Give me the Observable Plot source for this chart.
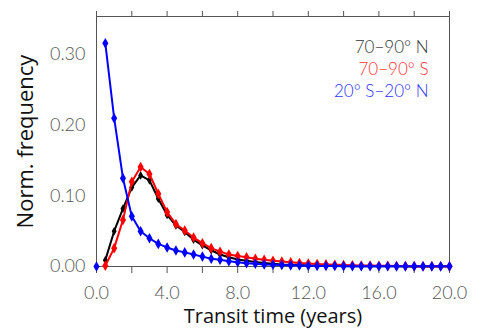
<!DOCTYPE html>
<html>
<head>
<meta charset="utf-8">
<script src="https://cdn.jsdelivr.net/npm/d3@7"></script>
<script src="https://cdn.jsdelivr.net/npm/@observablehq/plot@0.6"></script>
<style>
  html, body { margin: 0; padding: 0; background: #fff; }
  #chart svg { display: block; }
</style>
</head>
<body>
<div id="chart"></div>
<script>
// Transit time (years)
const years = [0.5, 1.0, 1.5, 2.0, 2.5, 3.0, 3.5, 4.0, 4.5, 5.0,
  5.5, 6.0, 6.5, 7.0, 7.5, 8.0, 8.5, 9.0, 9.5, 10.0,
  10.5, 11.0, 11.5, 12.0, 12.5, 13.0, 13.5, 14.0, 14.5, 15.0,
  15.5, 16.0, 16.5, 17.0, 17.5, 18.0, 18.5, 19.0, 19.5, 20.0];

// 70–90° N
const north = [0.009, 0.050, 0.082, 0.112, 0.129, 0.122, 0.096, 0.073, 0.058, 0.049,
  0.038, 0.030, 0.023, 0.017, 0.013, 0.010, 0.008, 0.0065, 0.005, 0.004,
  0.003, 0.0025, 0.002, 0.0015, 0.0012, 0.001, 0.0008, 0.0006, 0.0005, 0.0004,
  0.0003, 0.0003, 0.0002, 0.0002, 0.0001, 0.0001, 0.0001, 0.0001, 0.0, 0.0];

// 70–90° S
const south = [0.001, 0.026, 0.066, 0.120, 0.141, 0.131, 0.103, 0.077, 0.060, 0.051,
  0.041, 0.033, 0.026, 0.021, 0.017, 0.015, 0.013, 0.011, 0.0095, 0.0082,
  0.007, 0.006, 0.005, 0.0042, 0.0036, 0.003, 0.0026, 0.0022, 0.0018, 0.0015,
  0.0013, 0.0011, 0.0009, 0.0008, 0.0006, 0.0005, 0.0004, 0.0003, 0.0003, 0.0002];

// 20° S–20° N
const tropics = [0.316, 0.210, 0.125, 0.071, 0.050, 0.040, 0.032, 0.027, 0.0226, 0.020,
  0.017, 0.014, 0.011, 0.0095, 0.0075, 0.006, 0.0047, 0.0038, 0.003, 0.0025,
  0.002, 0.0016, 0.0013, 0.001, 0.0008, 0.0007, 0.0006, 0.0005, 0.0004, 0.0004,
  0.0003, 0.0003, 0.0003, 0.0002, 0.0002, 0.0002, 0.0002, 0.0002, 0.0002, 0.0002];
// lone marker at the origin of the tropical series
const tropicsOriginX = [0.0];
const tropicsOriginY = [0.0];

const seriesNames = ["70\u221290\u00B0 N", "70\u221290\u00B0 S", "20\u00B0 S\u221220\u00B0 N"];
const seriesColors = ["#000000", "#ff0000", "#0000ff"];
const legendColors = ["#333333", "#ff3333", "#3333ff"];

const xTicks = [0, 2, 4, 6, 8, 10, 12, 14, 16, 18, 20];
const xLabelTicks = [0, 4, 8, 12, 16, 20];
const yTicks = [0.0, 0.1, 0.2, 0.3];

const xTitle = "Transit time (years)";
const yTitle = "Norm. frequency";

const seriesValues = [north, south, tropics];
const rows = [];
seriesValues.forEach((vals, s) => {
  vals.forEach((v, i) => rows.push({series: seriesNames[s], x: years[i], y: v}));
});
const origin = tropicsOriginX.map((x, i) => ({series: seriesNames[2], x, y: tropicsOriginY[i]}));

const tickFont = {fontFamily: "Lato", fontWeight: 300, fontSize: 18};
const axisColor = "#555";

const marks = [
  Plot.frame({stroke: axisColor}),
  Plot.axisX(xTicks, {anchor: "bottom", tickSize: 7, tickPadding: 13, color: axisColor, label: null,
    tickFormat: d => xLabelTicks.includes(d) ? d.toFixed(1) : "", ...tickFont}),
  Plot.axisX(xTicks, {anchor: "top", tickSize: 6, color: axisColor, label: null, tickFormat: () => ""}),
  Plot.axisY(yTicks, {anchor: "left", tickSize: 0, tickPadding: 11, color: axisColor, label: null,
    tickFormat: d => d.toFixed(2), ...tickFont}),
];

seriesNames.forEach((name, s) => {
  const data = rows.filter(d => d.series === name);
  marks.push(Plot.line(data, {x: "x", y: "y", stroke: seriesColors[s], strokeWidth: 2}));
  marks.push(Plot.dot(data, {x: "x", y: "y", symbol: "diamond", fill: seriesColors[s], r: s === 0 ? 2.6 : 3.2}));
});
marks.push(Plot.dot(origin, {x: "x", y: "y", symbol: "diamond", fill: seriesColors[2], r: 3.2}));

seriesNames.forEach((name, s) => {
  marks.push(Plot.text([name], {frameAnchor: "top-right", textAnchor: "end", lineAnchor: "middle",
    dx: -21, dy: 31 + 22 * s,
    fill: legendColors[s], fontFamily: "Lato", fontWeight: 300, fontSize: 17}));
});

marks.push(Plot.text([xTitle], {frameAnchor: "bottom", lineAnchor: "middle", dy: 50, fill: "#111",
  fontFamily: "Open Sans", fontSize: 20}));
marks.push(Plot.text([yTitle], {frameAnchor: "left", textAnchor: "middle", lineAnchor: "middle",
  dx: -71, rotate: -90, fill: "#111", fontFamily: "Open Sans", fontSize: 22}));

const chart = Plot.plot({
  width: 477,
  height: 329,
  marginLeft: 96,
  marginRight: 28,
  marginTop: 16,
  marginBottom: 63,
  x: {domain: [0, 20]},
  y: {domain: [0, 0.354]},
  style: {background: "#fff", overflow: "visible"},
  marks
});
document.getElementById("chart").appendChild(chart);
</script>
</body>
</html>
